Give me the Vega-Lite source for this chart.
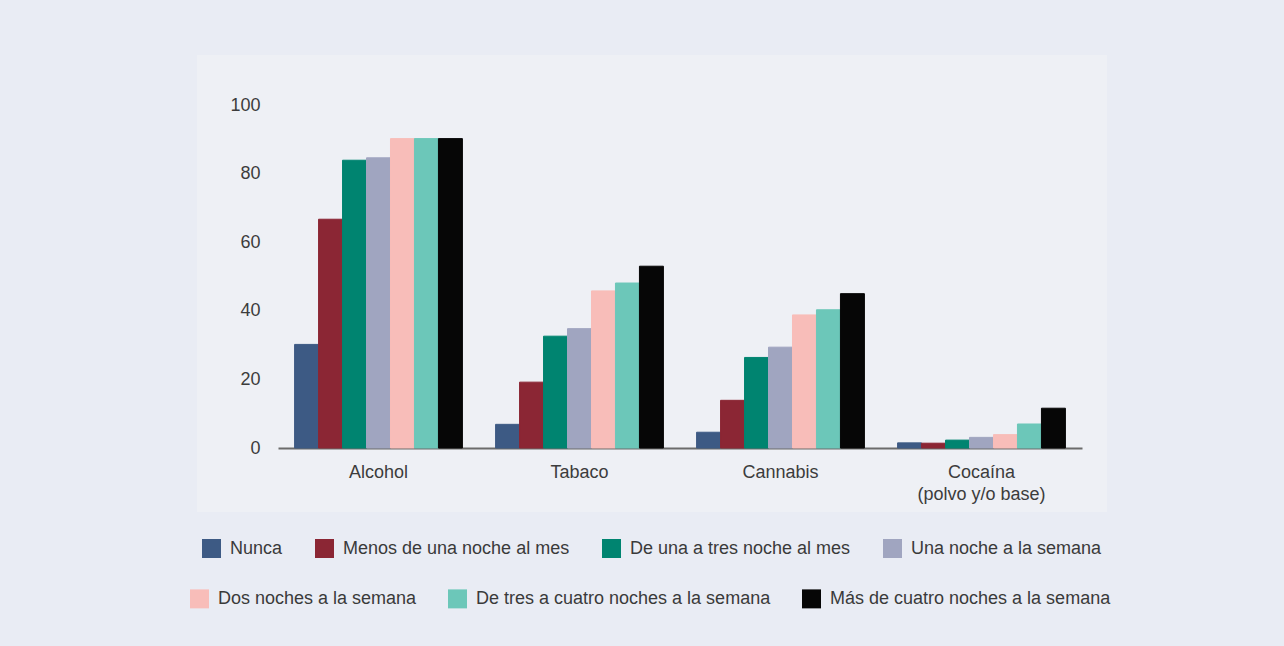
{
  "$schema": "https://vega.github.io/schema/vega-lite/v6.json",
  "width": 910,
  "height": 457,
  "autosize": {"type": "none"},
  "padding": {"left": 197, "top": 55, "right": 177, "bottom": 134},
  "background": "#e9ecf4",
  "config": {
    "view": {"fill": "#eef0f5", "stroke": null},
    "font": "Liberation Sans"
  },
  "data": {
    "values": [
      {"sustancia": "Alcohol", "frecuencia": "Nunca", "valor": 30.2},
      {"sustancia": "Alcohol", "frecuencia": "Menos de una noche al mes", "valor": 66.7},
      {"sustancia": "Alcohol", "frecuencia": "De una a tres noche al mes", "valor": 83.9},
      {"sustancia": "Alcohol", "frecuencia": "Una noche a la semana", "valor": 84.6},
      {"sustancia": "Alcohol", "frecuencia": "Dos noches a la semana", "valor": 90.2},
      {"sustancia": "Alcohol", "frecuencia": "De tres a cuatro noches a la semana", "valor": 90.2},
      {"sustancia": "Alcohol", "frecuencia": "Más de cuatro noches a la semana", "valor": 90.2},
      {"sustancia": "Tabaco", "frecuencia": "Nunca", "valor": 6.9},
      {"sustancia": "Tabaco", "frecuencia": "Menos de una noche al mes", "valor": 19.2},
      {"sustancia": "Tabaco", "frecuencia": "De una a tres noche al mes", "valor": 32.6},
      {"sustancia": "Tabaco", "frecuencia": "Una noche a la semana", "valor": 34.8},
      {"sustancia": "Tabaco", "frecuencia": "Dos noches a la semana", "valor": 45.8},
      {"sustancia": "Tabaco", "frecuencia": "De tres a cuatro noches a la semana", "valor": 48.1},
      {"sustancia": "Tabaco", "frecuencia": "Más de cuatro noches a la semana", "valor": 53.0},
      {"sustancia": "Cannabis", "frecuencia": "Nunca", "valor": 4.6},
      {"sustancia": "Cannabis", "frecuencia": "Menos de una noche al mes", "valor": 13.9},
      {"sustancia": "Cannabis", "frecuencia": "De una a tres noche al mes", "valor": 26.4},
      {"sustancia": "Cannabis", "frecuencia": "Una noche a la semana", "valor": 29.4},
      {"sustancia": "Cannabis", "frecuencia": "Dos noches a la semana", "valor": 38.8},
      {"sustancia": "Cannabis", "frecuencia": "De tres a cuatro noches a la semana", "valor": 40.3},
      {"sustancia": "Cannabis", "frecuencia": "Más de cuatro noches a la semana", "valor": 45.0},
      {"sustancia": "Cocaína (polvo y/o base)", "frecuencia": "Nunca", "valor": 1.5},
      {"sustancia": "Cocaína (polvo y/o base)", "frecuencia": "Menos de una noche al mes", "valor": 1.4},
      {"sustancia": "Cocaína (polvo y/o base)", "frecuencia": "De una a tres noche al mes", "valor": 2.3},
      {"sustancia": "Cocaína (polvo y/o base)", "frecuencia": "Una noche a la semana", "valor": 3.1},
      {"sustancia": "Cocaína (polvo y/o base)", "frecuencia": "Dos noches a la semana", "valor": 3.9},
      {"sustancia": "Cocaína (polvo y/o base)", "frecuencia": "De tres a cuatro noches a la semana", "valor": 7.0},
      {"sustancia": "Cocaína (polvo y/o base)", "frecuencia": "Más de cuatro noches a la semana", "valor": 11.6}
    ]
  },
  "mark": {"type": "bar"},
  "encoding": {
    "x": {
      "field": "sustancia",
      "type": "nominal",
      "sort": ["Alcohol", "Tabaco", "Cannabis", "Cocaína (polvo y/o base)"],
      "scale": {"range": [81, 885], "paddingInner": 0.165, "paddingOuter": 0.0825},
      "axis": {
        "title": null,
        "labelAngle": 0,
        "offset": -64,
        "domainColor": "#6b6b6b",
        "domainWidth": 2,
        "ticks": false,
        "labelPadding": 15,
        "labelFontSize": 18,
        "labelColor": "#3c3c3c",
        "labelLineHeight": 22,
        "labelExpr": "datum.value == 'Cocaína (polvo y/o base)' ? ['Cocaína', '(polvo y/o base)'] : datum.value"
      }
    },
    "xOffset": {
      "field": "frecuencia",
      "type": "nominal",
      "sort": ["Nunca", "Menos de una noche al mes", "De una a tres noche al mes", "Una noche a la semana", "Dos noches a la semana", "De tres a cuatro noches a la semana", "Más de cuatro noches a la semana"],
      "scale": {"paddingInner": 0, "paddingOuter": 0}
    },
    "y": {
      "field": "valor",
      "type": "quantitative",
      "scale": {"domain": [0, 100], "range": [393, 50], "nice": false},
      "axis": {
        "title": null,
        "values": [0, 20, 40, 60, 80, 100],
        "domain": false,
        "ticks": false,
        "grid": false,
        "offset": -68,
        "labelPadding": 5,
        "labelFontSize": 18,
        "labelColor": "#3c3c3c"
      }
    },
    "fill": {
      "field": "frecuencia",
      "type": "nominal",
      "scale": {
        "domain": ["Nunca", "Menos de una noche al mes", "De una a tres noche al mes", "Una noche a la semana", "Dos noches a la semana", "De tres a cuatro noches a la semana", "Más de cuatro noches a la semana"],
        "range": ["#3d5a84", "#8b2634", "#008470", "#a0a5c0", "#f8bdb9", "#6cc7b9", "#060606"]
      },
      "legend": {
        "title": null,
        "orient": "none",
        "legendX": 5,
        "legendY": 484,
        "direction": "horizontal",
        "values": ["Nunca", "Menos de una noche al mes", "De una a tres noche al mes", "Una noche a la semana"],
        "padding": 0,
        "symbolType": "square",
        "symbolSize": 361,
        "symbolStrokeWidth": 0,
        "labelFontSize": 18,
        "labelColor": "#3a3a3a",
        "labelOffset": 9,
        "columnPadding": 32,
        "labelLimit": 400
      }
    },
    "stroke": {
      "field": "frecuencia",
      "type": "nominal",
      "scale": {
        "domain": ["Dos noches a la semana", "De tres a cuatro noches a la semana", "Más de cuatro noches a la semana", "Nunca", "Menos de una noche al mes", "De una a tres noche al mes", "Una noche a la semana"],
        "range": ["#f8bdb9", "#6cc7b9", "#060606", "#3d5a84", "#8b2634", "#008470", "#a0a5c0"]
      },
      "legend": {
        "title": null,
        "orient": "none",
        "legendX": -7,
        "legendY": 534,
        "direction": "horizontal",
        "values": ["Dos noches a la semana", "De tres a cuatro noches a la semana", "Más de cuatro noches a la semana"],
        "padding": 0,
        "symbolType": "square",
        "symbolSize": 90,
        "symbolStrokeWidth": 9.5,
        "symbolFillColor": "transparent",
        "labelFontSize": 18,
        "labelColor": "#3a3a3a",
        "labelOffset": 9,
        "columnPadding": 16,
        "labelLimit": 400
      }
    }
  }
}
